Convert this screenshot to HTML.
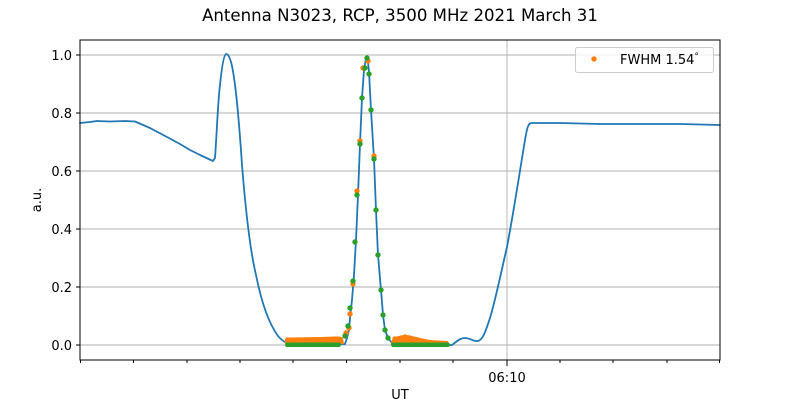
<!DOCTYPE html>
<html><head><meta charset="utf-8"><style>
html,body{margin:0;padding:0;background:#fff;}
svg{display:block;font-family:"DejaVu Sans","Liberation Sans",sans-serif;}
</style></head><body>
<svg width="800" height="400" viewBox="0 0 800 400">
<rect width="800" height="400" fill="#fff"/>
<text x="400" y="21" font-size="16.6" text-anchor="middle" fill="#000">Antenna N3023, RCP, 3500 MHz 2021 March 31</text>
<g stroke="#b0b0b0" stroke-width="0.9">
<line x1="80" y1="345" x2="720" y2="345"/><line x1="80" y1="287" x2="720" y2="287"/>
<line x1="80" y1="229" x2="720" y2="229"/><line x1="80" y1="171" x2="720" y2="171"/>
<line x1="80" y1="113" x2="720" y2="113"/><line x1="80" y1="55" x2="720" y2="55"/>
<line x1="507" y1="40" x2="507" y2="360"/>
</g>
<path fill="none" stroke="#1f77b4" stroke-width="1.8" stroke-linejoin="round" stroke-linecap="round"
d="M80,123 L90,122 L97,121 L110,121.5 L125,121 L135,121.5 L150,128 L167,137 L180,144 L190,150 L200,155 L213,161 L215,158
C217,130 218,100 220,85 C222,65 224,55 226,54 C228,54 230,57 232,66 C236,85 239,120 242,165
C246,215 250,250 256,275 C262,305 270,325 278,336 C282,341 286,343 290,344 L345,344
L347,338 L349,330 L350,318 L352,300 L354,275 L356,240 L358,195 L360,144 L362,98 L364,70 L366,58 L367,57 L368,62 L369,72 L371,110 L374,159 L376,210 L378,255 L381,290 L383,315 L385,330 L388,338 L392,343 L396,344.5 L452,345
C456,342 460,338 465,338 C470,338 474,342 478,341 C483,340 486,330 490,318 C496,298 502,268 507,247 C514,210 520,170 525,140 C527,128 528,124 531,123 L560,123 L600,124 L640,124 L680,124 L720,125"/>
<g fill="#ff7f0e">
<path d="M285,344 L285,340 Q285,337 289,337.5 L320,337 L335,336.5 Q341,336 343,338 L344,344 Z"/>
<path d="M391,344 L392,340 Q395,336 400,336 Q406,334 412,336 Q420,338 430,340 L448,341 L449,344 Z"/>
<circle cx="346" cy="333" r="2.7"/><circle cx="349" cy="328" r="2.7"/><circle cx="350" cy="314" r="2.7"/><circle cx="353" cy="284" r="2.7"/><circle cx="357" cy="191" r="2.7"/><circle cx="360" cy="141" r="2.7"/><circle cx="363" cy="68" r="2.7"/><circle cx="368" cy="61" r="2.7"/><circle cx="374" cy="156" r="2.7"/>
<circle cx="395" cy="339" r="2.7"/><circle cx="401" cy="338" r="2.7"/><circle cx="405" cy="337" r="2.7"/>
</g>
<g fill="#2ca02c">
<rect x="285" y="342.5" width="56" height="4.5" rx="2.2"/>
<rect x="391" y="342.5" width="59" height="4.5" rx="2.2"/>
<circle cx="345" cy="336" r="2.7"/><circle cx="348" cy="326" r="2.7"/><circle cx="350" cy="308" r="2.7"/><circle cx="353" cy="281" r="2.7"/><circle cx="355" cy="242" r="2.7"/><circle cx="357" cy="195" r="2.7"/><circle cx="360" cy="144" r="2.7"/><circle cx="362" cy="98" r="2.7"/><circle cx="365" cy="68" r="2.7"/><circle cx="367" cy="58" r="2.7"/><circle cx="369" cy="74" r="2.7"/><circle cx="371" cy="110" r="2.7"/><circle cx="374" cy="159" r="2.7"/><circle cx="376" cy="210" r="2.7"/><circle cx="378" cy="255" r="2.7"/><circle cx="381" cy="290" r="2.7"/><circle cx="383" cy="315" r="2.7"/><circle cx="385" cy="330" r="2.7"/><circle cx="388" cy="338" r="2.7"/>
</g>
<rect x="80" y="40" width="640" height="320" fill="none" stroke="#000" stroke-width="1"/>
<g stroke="#000" stroke-width="1">
<line x1="80" y1="345" x2="76" y2="345"/><line x1="80" y1="287" x2="76" y2="287"/><line x1="80" y1="229" x2="76" y2="229"/>
<line x1="80" y1="171" x2="76" y2="171"/><line x1="80" y1="113" x2="76" y2="113"/><line x1="80" y1="55" x2="76" y2="55"/>
<line x1="507" y1="360" x2="507" y2="366"/>
<line x1="80.5" y1="360" x2="80.5" y2="363"/><line x1="133.5" y1="360" x2="133.5" y2="363"/><line x1="187" y1="360" x2="187" y2="363"/>
<line x1="240" y1="360" x2="240" y2="363"/><line x1="293" y1="360" x2="293" y2="363"/><line x1="346.5" y1="360" x2="346.5" y2="363"/>
<line x1="400" y1="360" x2="400" y2="363"/><line x1="453" y1="360" x2="453" y2="363"/><line x1="560" y1="360" x2="560" y2="363"/>
<line x1="613" y1="360" x2="613" y2="363"/><line x1="667" y1="360" x2="667" y2="363"/><line x1="719.5" y1="360" x2="719.5" y2="363"/>
</g>
<g font-size="13" text-anchor="end" fill="#000">
<text x="72" y="350">0.0</text><text x="72" y="292">0.2</text><text x="72" y="234">0.4</text>
<text x="72" y="176">0.6</text><text x="72" y="118">0.8</text><text x="72" y="60">1.0</text>
</g>
<text x="507" y="382" font-size="13" text-anchor="middle">06:10</text>
<text x="400" y="399" font-size="13" text-anchor="middle">UT</text>
<text transform="translate(41,200) rotate(-90)" font-size="13" text-anchor="middle">a.u.</text>
<rect x="575.5" y="47.5" width="138" height="25" rx="2" fill="#fff" fill-opacity="0.8" stroke="#ccc"/>
<circle cx="594" cy="59" r="2.7" fill="#ff7f0e"/>
<text x="620" y="64" font-size="13">FWHM 1.54<tspan font-size="9" dy="-5">°</tspan></text>
</svg>
</body></html>
